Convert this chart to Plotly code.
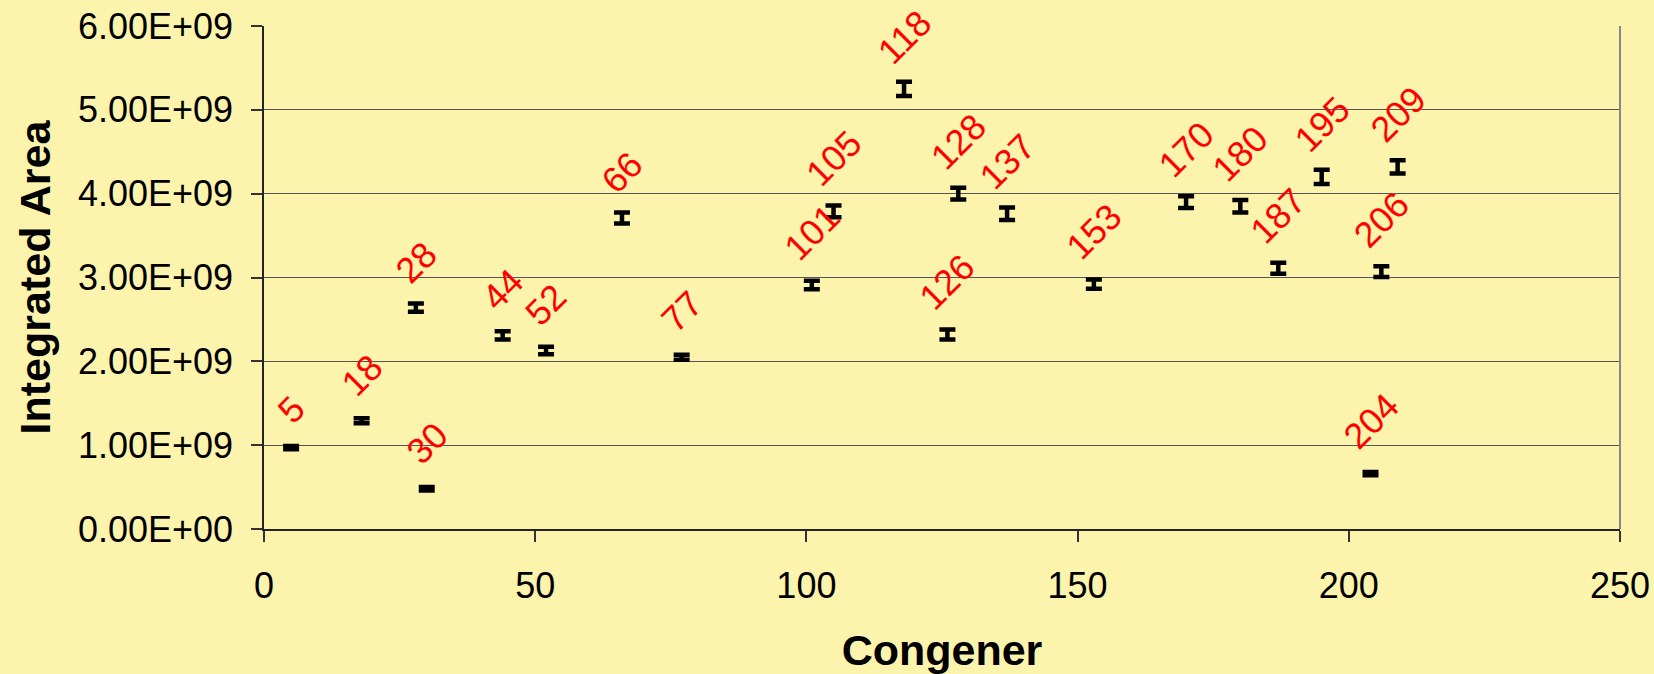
import plotly.graph_objects as go

# Data
congener = [5, 18, 28, 30, 44, 52, 66, 77, 101, 105, 118, 126, 128, 137, 153, 170, 180, 187, 195, 204, 206, 209]
area = [0.97e9, 1.29e9, 2.64e9, 0.48e9, 2.31e9, 2.13e9, 3.71e9, 2.05e9, 2.91e9, 3.79e9, 5.25e9, 2.32e9,
        4.00e9, 3.76e9, 2.92e9, 3.90e9, 3.85e9, 3.11e9, 4.20e9, 0.66e9, 3.07e9, 4.32e9]
area_err = [0.02e9, 0.03e9, 0.05e9, 0.02e9, 0.05e9, 0.045e9, 0.065e9, 0.03e9, 0.05e9, 0.07e9, 0.085e9, 0.06e9,
            0.07e9, 0.075e9, 0.055e9, 0.07e9, 0.075e9, 0.065e9, 0.085e9, 0.02e9, 0.065e9, 0.08e9]
labels = [str(c) for c in congener]

ytick_vals = [0, 1e9, 2e9, 3e9, 4e9, 5e9, 6e9]
ytick_text = ["0.00E+00", "1.00E+09", "2.00E+09", "3.00E+09", "4.00E+09", "5.00E+09", "6.00E+09"]
xtick_vals = [0, 50, 100, 150, 200, 250]

BG = "#FCF4AC"
FONT = "Liberation Sans, Arial, sans-serif"

fig = go.Figure()
fig.add_trace(go.Scatter(
    x=congener, y=area, mode="markers",
    marker=dict(color="black", size=3),
    error_y=dict(type="data", array=area_err, visible=True, color="black", thickness=4.5, width=8),
    showlegend=False, hoverinfo="x+y",
))

for xv, yv, t in zip(congener, area, labels):
    fig.add_annotation(x=xv, y=yv, text=t, showarrow=False, textangle=-45,
                       xanchor="center", yanchor="bottom", yshift=14,
                       font=dict(family=FONT, size=36, color="#FF0000"))

# right border of plot area
fig.add_shape(type="line", xref="paper", yref="paper", x0=1, x1=1, y0=0, y1=1,
              line=dict(color="#888888", width=2))

fig.update_layout(
    width=1654, height=674,
    paper_bgcolor=BG, plot_bgcolor=BG,
    margin=dict(l=264, r=34, t=26, b=145, autoexpand=False),
    font=dict(family=FONT, color="black"),
    xaxis=dict(range=[0, 250], tickvals=xtick_vals, ticks="outside", ticklen=11, tickwidth=1.5,
               tickcolor="#333", showgrid=False, zeroline=False, showline=True, linecolor="#222",
               linewidth=1.5, tickfont=dict(size=36), ticklabelstandoff=13, automargin=False,
               title=dict(text="<b>Congener</b>", font=dict(size=43), standoff=30)),
    yaxis=dict(range=[0, 6e9], tickvals=ytick_vals, ticktext=ytick_text, ticks="outside", ticklen=11,
               tickwidth=1.5, tickcolor="#333", showgrid=True, gridcolor="#555", gridwidth=1.3,
               zeroline=False, showline=True, linecolor="#222", linewidth=1.5,
               tickfont=dict(size=36), ticklabelstandoff=11, automargin=False,
               title=dict(text="<b>Integrated Area</b>", font=dict(size=43), standoff=14)),
)

fig.write_html("out.html")
